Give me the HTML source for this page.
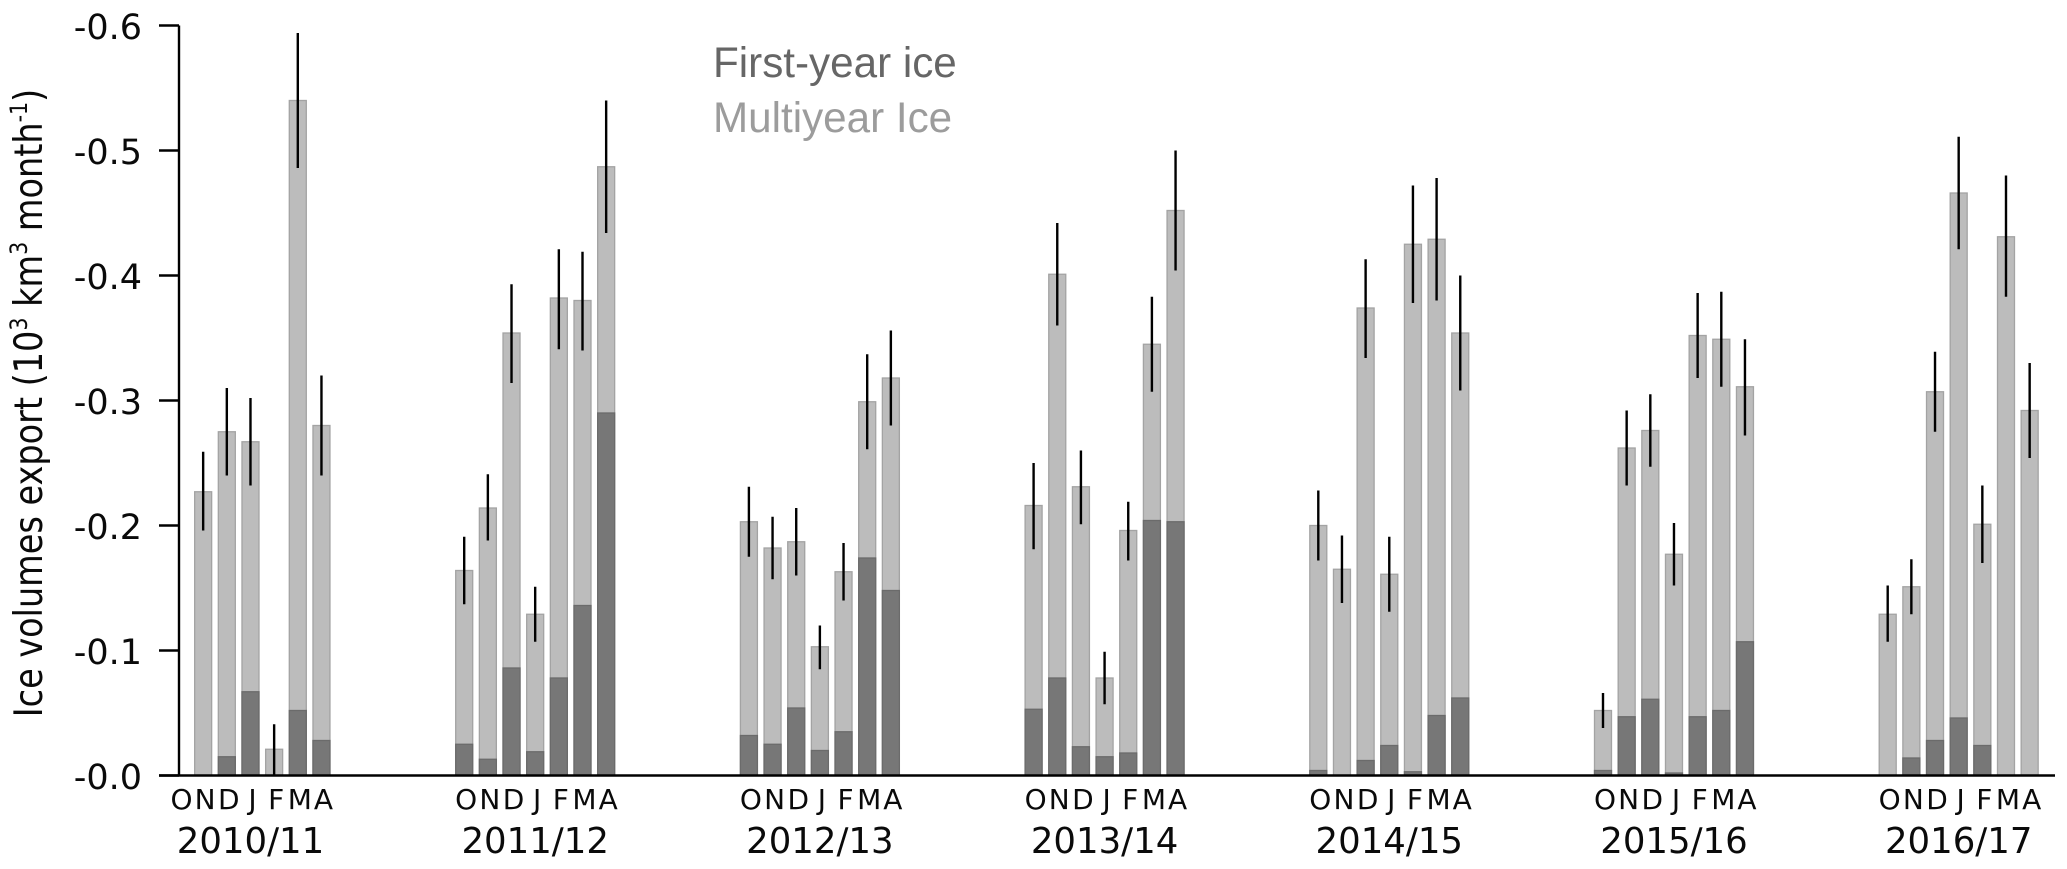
<!DOCTYPE html>
<html lang="en">
<head>
<meta charset="utf-8">
<title>Ice volumes export</title>
<style>
  html, body { margin: 0; padding: 0; background: #fff; }
  svg { display: block; }
  .dv { font-family: "DejaVu Sans", sans-serif; fill: #0a0a0a; }
  .ls { font-family: "Liberation Sans", sans-serif; }
</style>
</head>
<body>
<svg id="chart" xmlns="http://www.w3.org/2000/svg" width="2067" height="869" viewBox="0 0 2067 869">
  <rect x="0" y="0" width="2067" height="869" fill="#ffffff"/>
  <g id="bars"></g>
  <g id="errors"></g>
  <g id="axes"></g>
  <text class="dv" transform="translate(42 403) rotate(-90) scale(0.859 1)" text-anchor="middle" font-size="39">Ice volumes export (10<tspan font-size="24" dy="-15">3</tspan><tspan dy="15"> km</tspan><tspan font-size="24" dy="-15">3</tspan><tspan dy="15"> month</tspan><tspan font-size="24" dy="-15">-1</tspan><tspan dy="15">)</tspan></text>
  <text class="ls" x="713" y="77" font-size="42.2" fill="#666666">First-year ice</text>
  <text class="ls" x="713" y="132" font-size="42.2" fill="#9c9c9c">Multiyear Ice</text>
</svg>
<script>
const seasons = ["2010/11","2011/12","2012/13","2013/14","2014/15","2015/16","2016/17"];
const months = ["O","N","D","J","F","M","A"];
const yTicks = [0, 0.1, 0.2, 0.3, 0.4, 0.5, 0.6];
const yTickLabels = ["-0.0","-0.1","-0.2","-0.3","-0.4","-0.5","-0.6"];

const totalIce = [
  [null,0.227,0.275,0.267,0.021,0.540,0.280],
  [0.164,0.214,0.354,0.129,0.382,0.380,0.487],
  [0.203,0.182,0.187,0.103,0.163,0.299,0.318],
  [0.216,0.401,0.231,0.078,0.196,0.345,0.452],
  [0.200,0.165,0.374,0.161,0.425,0.429,0.354],
  [0.052,0.262,0.276,0.177,0.352,0.349,0.311],
  [0.129,0.151,0.307,0.466,0.201,0.431,0.292]
];
const firstYearIce = [
  [null,0,0.015,0.067,0,0.052,0.028],
  [0.025,0.013,0.086,0.019,0.078,0.136,0.290],
  [0.032,0.025,0.054,0.020,0.035,0.174,0.148],
  [0.053,0.078,0.023,0.015,0.018,0.204,0.203],
  [0.004,0,0.012,0.024,0.003,0.048,0.062],
  [0.004,0.047,0.061,0.002,0.047,0.052,0.107],
  [0,0.014,0.028,0.046,0.024,0,0]
];
const errorTop = [
  [null,0.259,0.310,0.302,0.041,0.594,0.320],
  [0.191,0.241,0.393,0.151,0.421,0.419,0.540],
  [0.231,0.207,0.214,0.120,0.186,0.337,0.356],
  [0.250,0.442,0.260,0.099,0.219,0.383,0.500],
  [0.228,0.192,0.413,0.191,0.472,0.478,0.400],
  [0.066,0.292,0.305,0.202,0.386,0.387,0.349],
  [0.152,0.173,0.339,0.511,0.232,0.480,0.330]
];
const errorBottom = [
  [null,0.196,0.240,0.232,0,0.486,0.240],
  [0.137,0.188,0.314,0.107,0.341,0.340,0.434],
  [0.175,0.157,0.160,0.085,0.140,0.261,0.280],
  [0.181,0.360,0.201,0.057,0.172,0.307,0.404],
  [0.172,0.138,0.334,0.131,0.378,0.380,0.308],
  [0.038,0.232,0.247,0.152,0.318,0.311,0.272],
  [0.107,0.129,0.275,0.421,0.170,0.383,0.254]
];

const NS = "http://www.w3.org/2000/svg";
const Y0 = 775.5, YPX = 1250;
const X0 = 179.5, SEASON_STEP = 284.7, MONTH_STEP = 23.66, BAR_W = 17;
const AXIS_LEFT = 179, AXIS_RIGHT = 2055, TICK_LEFT = 159;

function yScale(v) { return Y0 - v * YPX; }
function xScale(s, m) { return X0 + s * SEASON_STEP + m * MONTH_STEP; }
function make(tag, attrs, parent) {
  const el = document.createElementNS(NS, tag);
  for (const k in attrs) el.setAttribute(k, attrs[k]);
  parent.appendChild(el);
  return el;
}

const barsG = document.getElementById("bars");
const errG = document.getElementById("errors");
const axesG = document.getElementById("axes");

seasons.forEach(function (season, s) {
  months.forEach(function (month, m) {
    const total = totalIce[s][m];
    const first = firstYearIce[s][m];
    const cx = xScale(s, m);
    if (total !== null) {
      const light = make("rect", {x: cx - BAR_W / 2, y: yScale(total), width: BAR_W, height: yScale(0) - yScale(total), fill: "#bcbcbc", stroke: "#a3a3a3", "stroke-width": 1.3}, barsG);
      
      
      if (first > 0) {
        const dark = make("rect", {x: cx - BAR_W / 2, y: yScale(first), width: BAR_W, height: yScale(0) - yScale(first), fill: "#777777", stroke: "#6b6b6b", "stroke-width": 1.3}, barsG);
        
        
      }
      const err = make("line", {x1: cx, x2: cx, y1: yScale(errorTop[s][m]), y2: yScale(errorBottom[s][m]), stroke: "#000000", "stroke-width": 2.4}, errG);
      
      
    }
    const ml = make("text", {x: cx + 2, y: 809, "text-anchor": "middle", "font-size": 28, class: "dv"}, axesG);
    
    
    ml.textContent = month;
  });
  const yl = make("text", {x: xScale(s, 3), y: 853, "text-anchor": "middle", "font-size": 35.5, class: "dv"}, axesG);
  
  
  yl.textContent = season;
});

const yAxis = make("line", {x1: AXIS_LEFT, x2: AXIS_LEFT, y1: yScale(0.6), y2: yScale(0), stroke: "#000", "stroke-width": 2.4}, axesG);


const xAxis = make("line", {x1: TICK_LEFT, x2: AXIS_RIGHT, y1: yScale(0), y2: yScale(0), stroke: "#000", "stroke-width": 2.4}, axesG);



yTicks.forEach(function (t, i) {
  const tick = make("line", {x1: TICK_LEFT, x2: AXIS_LEFT, y1: yScale(t), y2: yScale(t), stroke: "#000", "stroke-width": 2.4}, axesG);
  
  
  const lab = make("text", {x: 142, y: yScale(t) + 13.5, "text-anchor": "end", "font-size": 35, class: "dv"}, axesG);
  
  
  lab.textContent = yTickLabels[i];
});
</script>
</body>
</html>
